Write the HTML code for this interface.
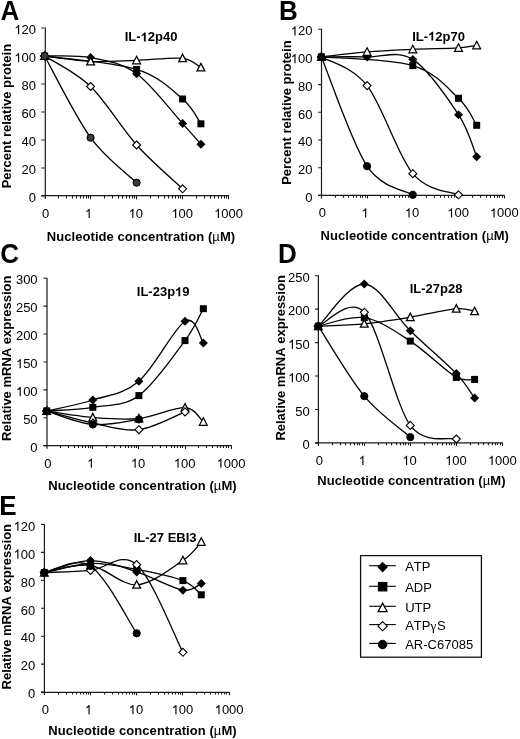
<!DOCTYPE html>
<html><head><meta charset="utf-8"><style>
html,body{margin:0;padding:0;background:#fff;}
svg{display:block;will-change:transform;}
text{font-family:"Liberation Sans", sans-serif;fill:#000;}
.n{font-size:13px;}
.b{font-size:13px;font-weight:bold;}
.p{font-size:26px;font-weight:bold;}
.h{fill:transparent;}
text{font-kerning:none;}
</style></head><body>
<svg width="520" height="739" viewBox="0 0 520 739">
<rect width="520" height="739" fill="#fff"/>
<path d="M45.30,27.50 V199.00 M41.30,195.70 H229.10" stroke="#1a1a1a" stroke-width="1.2" fill="none"/>
<path d="M41.30,196.00 H44.60 M41.30,168.00 H44.60 M41.30,140.00 H44.60 M41.30,112.00 H44.60 M41.30,84.00 H44.60 M41.30,56.00 H44.60 M41.30,28.00 H44.60 M58.50,196.00 v2.4 M66.50,196.00 v2.4 M72.50,196.00 v2.4 M76.50,196.00 v2.4 M80.50,196.00 v2.4 M83.50,196.00 v2.4 M86.50,196.00 v2.4 M88.50,196.00 v2.4 M90.50,196.00 v3.2 M104.50,196.00 v2.4 M112.50,196.00 v2.4 M118.50,196.00 v2.4 M122.50,196.00 v2.4 M126.50,196.00 v2.4 M129.50,196.00 v2.4 M132.50,196.00 v2.4 M134.50,196.00 v2.4 M136.50,196.00 v3.2 M150.50,196.00 v2.4 M158.50,196.00 v2.4 M164.50,196.00 v2.4 M168.50,196.00 v2.4 M172.50,196.00 v2.4 M175.50,196.00 v2.4 M178.50,196.00 v2.4 M180.50,196.00 v2.4 M182.50,196.00 v3.2 M196.50,196.00 v2.4 M204.50,196.00 v2.4 M210.50,196.00 v2.4 M214.50,196.00 v2.4 M218.50,196.00 v2.4 M221.50,196.00 v2.4 M224.50,196.00 v2.4 M226.50,196.00 v2.4 M228.50,196.00 v3.2" stroke="#1a1a1a" stroke-width="1.1" fill="none"/>
<text x="36.00" y="202.30" transform="matrix(1,0,0,1.04,0,-8.092)" text-anchor="end" class="n">0</text>
<text x="36.00" y="174.30" transform="matrix(1,0,0,1.04,0,-6.972)" text-anchor="end" class="n">20</text>
<text x="36.00" y="146.30" transform="matrix(1,0,0,1.04,0,-5.852)" text-anchor="end" class="n">40</text>
<text x="36.00" y="118.30" transform="matrix(1,0,0,1.04,0,-4.732)" text-anchor="end" class="n">60</text>
<text x="36.00" y="90.30" transform="matrix(1,0,0,1.04,0,-3.612)" text-anchor="end" class="n">80</text>
<text x="36.00" y="62.30" transform="matrix(1,0,0,1.04,0,-2.492)" text-anchor="end" class="n"><tspan class="h">1</tspan>00</text>
<text x="36.00" y="34.30" transform="matrix(1,0,0,1.04,0,-1.372)" text-anchor="end" class="n"><tspan class="h">1</tspan>20</text>
<text x="45.70" y="218.10" transform="matrix(1,0,0,1.04,0,-8.724)" text-anchor="middle" class="n">0</text>
<text x="88.50" y="218.10" transform="matrix(1,0,0,1.04,0,-8.724)" text-anchor="middle" class="n"><tspan class="h">1</tspan></text>
<text x="135.80" y="218.10" transform="matrix(1,0,0,1.04,0,-8.724)" text-anchor="middle" class="n"><tspan class="h">1</tspan>0</text>
<text x="182.20" y="218.10" transform="matrix(1,0,0,1.04,0,-8.724)" text-anchor="middle" class="n"><tspan class="h">1</tspan>00</text>
<text x="228.60" y="218.10" transform="matrix(1,0,0,1.04,0,-8.724)" text-anchor="middle" class="n"><tspan class="h">1</tspan>000</text>
<text x="46.80" y="240.60" class="b" letter-spacing="0.06">Nucleotide concentration (<tspan font-weight="normal">µ</tspan>M)</text>
<text transform="translate(10.60,116.10) rotate(-90)" text-anchor="middle" class="b">Percent relative protein</text>
<text x="124.70" y="41.40" class="b">IL-<tspan class="h">1</tspan>2p40</text>
<text x="0.60" y="19.60" transform="matrix(1,0,0,1.04,0,-0.784)" class="p">A</text>
<path d="M44.60,56.00 C52.27,56.27 75.27,54.65 90.60,57.60 C105.93,60.55 121.27,62.70 136.60,73.70 C151.93,84.70 171.88,111.85 182.60,123.60 C191.89,133.78 197.85,140.77 200.91,144.20" stroke="#000" stroke-width="1.3" fill="none"/>
<path d="M44.60,56.00 C59.93,58.23 113.60,62.23 136.60,69.40 C159.60,76.57 171.88,89.93 182.60,99.00 C193.32,108.07 197.85,119.67 200.91,123.80" stroke="#000" stroke-width="1.3" fill="none"/>
<path d="M44.60,56.00 C52.27,56.92 75.27,60.77 90.60,61.50 C105.93,62.23 121.27,60.93 136.60,60.40 C151.93,59.87 171.88,57.12 182.60,58.30 C192.78,59.42 197.85,65.97 200.91,67.50" stroke="#000" stroke-width="1.3" fill="none"/>
<path d="M44.60,56.00 C52.27,61.08 75.27,71.67 90.60,86.50 C105.93,101.33 121.27,127.95 136.60,145.00 C151.93,162.05 174.93,181.50 182.60,188.80" stroke="#000" stroke-width="1.3" fill="none"/>
<path d="M44.60,56.00 C52.27,69.62 75.27,116.58 90.60,137.70 C105.93,158.82 128.93,175.20 136.60,182.70" stroke="#000" stroke-width="1.3" fill="none"/>
<path d="M44.60,51.50 L49.10,56.00 L44.60,60.50 L40.10,56.00 Z" fill="#000"/>
<path d="M90.60,53.10 L95.10,57.60 L90.60,62.10 L86.10,57.60 Z" fill="#000"/>
<path d="M136.60,69.20 L141.10,73.70 L136.60,78.20 L132.10,73.70 Z" fill="#000"/>
<path d="M182.60,119.10 L187.10,123.60 L182.60,128.10 L178.10,123.60 Z" fill="#000"/>
<path d="M200.91,139.70 L205.41,144.20 L200.91,148.70 L196.41,144.20 Z" fill="#000"/>
<rect x="41.10" y="52.50" width="7.00" height="7.00" fill="#000"/>
<rect x="133.10" y="65.90" width="7.00" height="7.00" fill="#000"/>
<rect x="179.10" y="95.50" width="7.00" height="7.00" fill="#000"/>
<rect x="197.41" y="120.30" width="7.00" height="7.00" fill="#000"/>
<path d="M44.60,51.90 L48.50,59.40 L40.70,59.40 Z" fill="#fff" stroke="#000" stroke-width="1.25" stroke-linejoin="miter"/>
<path d="M90.60,57.40 L94.50,64.90 L86.70,64.90 Z" fill="#fff" stroke="#000" stroke-width="1.25" stroke-linejoin="miter"/>
<path d="M136.60,56.30 L140.50,63.80 L132.70,63.80 Z" fill="#fff" stroke="#000" stroke-width="1.25" stroke-linejoin="miter"/>
<path d="M182.60,54.20 L186.50,61.70 L178.70,61.70 Z" fill="#fff" stroke="#000" stroke-width="1.25" stroke-linejoin="miter"/>
<path d="M200.91,63.40 L204.81,70.90 L197.01,70.90 Z" fill="#fff" stroke="#000" stroke-width="1.25" stroke-linejoin="miter"/>
<path d="M44.60,52.00 L48.60,56.00 L44.60,60.00 L40.60,56.00 Z" fill="#fff" stroke="#000" stroke-width="1.1"/>
<path d="M90.60,82.50 L94.60,86.50 L90.60,90.50 L86.60,86.50 Z" fill="#fff" stroke="#000" stroke-width="1.1"/>
<path d="M136.60,141.00 L140.60,145.00 L136.60,149.00 L132.60,145.00 Z" fill="#fff" stroke="#000" stroke-width="1.1"/>
<path d="M182.60,184.80 L186.60,188.80 L182.60,192.80 L178.60,188.80 Z" fill="#fff" stroke="#000" stroke-width="1.1"/>
<circle cx="44.60" cy="56.00" r="3.60" fill="#3a3a3a" stroke="#000" stroke-width="1"/>
<circle cx="90.60" cy="137.70" r="3.60" fill="#3a3a3a" stroke="#000" stroke-width="1"/>
<circle cx="136.60" cy="182.70" r="3.60" fill="#3a3a3a" stroke="#000" stroke-width="1"/>
<path d="M321.50,28.70 V198.40 M318.10,195.30 H504.70" stroke="#1a1a1a" stroke-width="1.2" fill="none"/>
<path d="M318.10,195.40 H321.40 M318.10,167.70 H321.40 M318.10,140.00 H321.40 M318.10,112.30 H321.40 M318.10,84.60 H321.40 M318.10,56.90 H321.40 M318.10,29.20 H321.40 M335.50,195.40 v2.4 M343.50,195.40 v2.4 M348.50,195.40 v2.4 M353.50,195.40 v2.4 M356.50,195.40 v2.4 M360.50,195.40 v2.4 M362.50,195.40 v2.4 M365.50,195.40 v2.4 M367.50,195.40 v3.2 M380.50,195.40 v2.4 M388.50,195.40 v2.4 M394.50,195.40 v2.4 M399.50,195.40 v2.4 M402.50,195.40 v2.4 M405.50,195.40 v2.4 M408.50,195.40 v2.4 M410.50,195.40 v2.4 M412.50,195.40 v3.2 M426.50,195.40 v2.4 M434.50,195.40 v2.4 M440.50,195.40 v2.4 M444.50,195.40 v2.4 M448.50,195.40 v2.4 M451.50,195.40 v2.4 M454.50,195.40 v2.4 M456.50,195.40 v2.4 M458.50,195.40 v3.2 M472.50,195.40 v2.4 M480.50,195.40 v2.4 M486.50,195.40 v2.4 M490.50,195.40 v2.4 M494.50,195.40 v2.4 M497.50,195.40 v2.4 M499.50,195.40 v2.4 M502.50,195.40 v2.4 M504.50,195.40 v3.2" stroke="#1a1a1a" stroke-width="1.1" fill="none"/>
<text x="312.40" y="201.70" transform="matrix(1,0,0,1.04,0,-8.068)" text-anchor="end" class="n">0</text>
<text x="312.40" y="174.00" transform="matrix(1,0,0,1.04,0,-6.960)" text-anchor="end" class="n">20</text>
<text x="312.40" y="146.30" transform="matrix(1,0,0,1.04,0,-5.852)" text-anchor="end" class="n">40</text>
<text x="312.40" y="118.60" transform="matrix(1,0,0,1.04,0,-4.744)" text-anchor="end" class="n">60</text>
<text x="312.40" y="90.90" transform="matrix(1,0,0,1.04,0,-3.636)" text-anchor="end" class="n">80</text>
<text x="312.40" y="63.20" transform="matrix(1,0,0,1.04,0,-2.528)" text-anchor="end" class="n"><tspan class="h">1</tspan>00</text>
<text x="312.40" y="35.50" transform="matrix(1,0,0,1.04,0,-1.420)" text-anchor="end" class="n"><tspan class="h">1</tspan>20</text>
<text x="322.50" y="217.50" transform="matrix(1,0,0,1.04,0,-8.700)" text-anchor="middle" class="n">0</text>
<text x="365.00" y="217.50" transform="matrix(1,0,0,1.04,0,-8.700)" text-anchor="middle" class="n"><tspan class="h">1</tspan></text>
<text x="412.00" y="217.50" transform="matrix(1,0,0,1.04,0,-8.700)" text-anchor="middle" class="n"><tspan class="h">1</tspan>0</text>
<text x="458.10" y="217.50" transform="matrix(1,0,0,1.04,0,-8.700)" text-anchor="middle" class="n"><tspan class="h">1</tspan>00</text>
<text x="504.20" y="217.50" transform="matrix(1,0,0,1.04,0,-8.700)" text-anchor="middle" class="n"><tspan class="h">1</tspan>000</text>
<text x="320.60" y="239.90" class="b" letter-spacing="0.06">Nucleotide concentration (<tspan font-weight="normal">µ</tspan>M)</text>
<text transform="translate(291.00,112.60) rotate(-90)" text-anchor="middle" class="b">Percent relative protein</text>
<text x="412.20" y="40.60" class="b">IL-<tspan class="h">1</tspan>2p70</text>
<text x="278.90" y="19.70" transform="matrix(1,0,0,1.04,0,-0.788)" class="p">B</text>
<path d="M321.40,56.90 C329.02,56.90 351.87,56.48 367.10,56.90 C382.33,57.32 397.57,49.77 412.80,59.40 C428.03,69.03 447.85,98.48 458.50,114.70 C469.15,130.92 473.65,149.70 476.69,156.70" stroke="#000" stroke-width="1.3" fill="none"/>
<path d="M321.40,56.90 C336.63,58.35 389.95,58.70 412.80,65.60 C435.65,72.50 447.85,88.35 458.50,98.30 C469.15,108.25 473.65,120.80 476.69,125.30" stroke="#000" stroke-width="1.3" fill="none"/>
<path d="M321.40,56.90 C329.02,56.07 351.87,53.15 367.10,51.90 C382.33,50.65 397.57,50.07 412.80,49.40 C428.03,48.73 447.85,48.57 458.50,47.90 C467.66,47.33 473.65,45.82 476.69,45.40" stroke="#000" stroke-width="1.3" fill="none"/>
<path d="M321.40,56.90 C329.02,61.68 351.87,66.13 367.10,85.60 C382.33,105.07 397.57,155.50 412.80,173.70 C428.03,191.90 450.88,191.28 458.50,194.80" stroke="#000" stroke-width="1.3" fill="none"/>
<path d="M321.40,56.90 C329.02,75.12 351.87,143.22 367.10,166.20 C381.99,188.67 405.18,190.03 412.80,194.80" stroke="#000" stroke-width="1.3" fill="none"/>
<path d="M321.40,52.40 L325.90,56.90 L321.40,61.40 L316.90,56.90 Z" fill="#000"/>
<path d="M367.10,52.40 L371.60,56.90 L367.10,61.40 L362.60,56.90 Z" fill="#000"/>
<path d="M412.80,54.90 L417.30,59.40 L412.80,63.90 L408.30,59.40 Z" fill="#000"/>
<path d="M458.50,110.20 L463.00,114.70 L458.50,119.20 L454.00,114.70 Z" fill="#000"/>
<path d="M476.69,152.20 L481.19,156.70 L476.69,161.20 L472.19,156.70 Z" fill="#000"/>
<rect x="317.90" y="53.40" width="7.00" height="7.00" fill="#000"/>
<rect x="409.30" y="62.10" width="7.00" height="7.00" fill="#000"/>
<rect x="455.00" y="94.80" width="7.00" height="7.00" fill="#000"/>
<rect x="473.19" y="121.80" width="7.00" height="7.00" fill="#000"/>
<path d="M321.40,52.80 L325.30,60.30 L317.50,60.30 Z" fill="#fff" stroke="#000" stroke-width="1.25" stroke-linejoin="miter"/>
<path d="M367.10,47.80 L371.00,55.30 L363.20,55.30 Z" fill="#fff" stroke="#000" stroke-width="1.25" stroke-linejoin="miter"/>
<path d="M412.80,45.30 L416.70,52.80 L408.90,52.80 Z" fill="#fff" stroke="#000" stroke-width="1.25" stroke-linejoin="miter"/>
<path d="M458.50,43.80 L462.40,51.30 L454.60,51.30 Z" fill="#fff" stroke="#000" stroke-width="1.25" stroke-linejoin="miter"/>
<path d="M476.69,41.30 L480.59,48.80 L472.79,48.80 Z" fill="#fff" stroke="#000" stroke-width="1.25" stroke-linejoin="miter"/>
<path d="M321.40,52.90 L325.40,56.90 L321.40,60.90 L317.40,56.90 Z" fill="#fff" stroke="#000" stroke-width="1.1"/>
<path d="M367.10,81.60 L371.10,85.60 L367.10,89.60 L363.10,85.60 Z" fill="#fff" stroke="#000" stroke-width="1.1"/>
<path d="M412.80,169.70 L416.80,173.70 L412.80,177.70 L408.80,173.70 Z" fill="#fff" stroke="#000" stroke-width="1.1"/>
<path d="M458.50,190.80 L462.50,194.80 L458.50,198.80 L454.50,194.80 Z" fill="#fff" stroke="#000" stroke-width="1.1"/>
<circle cx="321.40" cy="56.90" r="3.60" fill="#000" stroke="#000" stroke-width="1"/>
<circle cx="367.10" cy="166.20" r="3.60" fill="#000" stroke="#000" stroke-width="1"/>
<circle cx="412.80" cy="194.80" r="3.60" fill="#000" stroke="#000" stroke-width="1"/>
<path d="M47.00,277.70 V448.70 M43.40,445.60 H231.60" stroke="#1a1a1a" stroke-width="1.2" fill="none"/>
<path d="M43.40,445.70 H46.70 M43.40,417.78 H46.70 M43.40,389.87 H46.70 M43.40,361.95 H46.70 M43.40,334.03 H46.70 M43.40,306.12 H46.70 M43.40,278.20 H46.70 M60.50,445.70 v2.4 M68.50,445.70 v2.4 M74.50,445.70 v2.4 M78.50,445.70 v2.4 M82.50,445.70 v2.4 M85.50,445.70 v2.4 M88.50,445.70 v2.4 M90.50,445.70 v2.4 M92.50,445.70 v3.2 M106.50,445.70 v2.4 M114.50,445.70 v2.4 M120.50,445.70 v2.4 M125.50,445.70 v2.4 M128.50,445.70 v2.4 M131.50,445.70 v2.4 M134.50,445.70 v2.4 M136.50,445.70 v2.4 M138.50,445.70 v3.2 M152.50,445.70 v2.4 M160.50,445.70 v2.4 M166.50,445.70 v2.4 M171.50,445.70 v2.4 M174.50,445.70 v2.4 M177.50,445.70 v2.4 M180.50,445.70 v2.4 M182.50,445.70 v2.4 M185.50,445.70 v3.2 M198.50,445.70 v2.4 M206.50,445.70 v2.4 M212.50,445.70 v2.4 M217.50,445.70 v2.4 M220.50,445.70 v2.4 M223.50,445.70 v2.4 M226.50,445.70 v2.4 M228.50,445.70 v2.4 M231.50,445.70 v3.2" stroke="#1a1a1a" stroke-width="1.1" fill="none"/>
<text x="37.60" y="452.00" transform="matrix(1,0,0,1.04,0,-18.080)" text-anchor="end" class="n">0</text>
<text x="37.60" y="424.08" transform="matrix(1,0,0,1.04,0,-16.963)" text-anchor="end" class="n">50</text>
<text x="37.60" y="396.17" transform="matrix(1,0,0,1.04,0,-15.847)" text-anchor="end" class="n"><tspan class="h">1</tspan>00</text>
<text x="37.60" y="368.25" transform="matrix(1,0,0,1.04,0,-14.730)" text-anchor="end" class="n"><tspan class="h">1</tspan>50</text>
<text x="37.60" y="340.33" transform="matrix(1,0,0,1.04,0,-13.613)" text-anchor="end" class="n">200</text>
<text x="37.60" y="312.42" transform="matrix(1,0,0,1.04,0,-12.497)" text-anchor="end" class="n">250</text>
<text x="37.60" y="284.50" transform="matrix(1,0,0,1.04,0,-11.380)" text-anchor="end" class="n">300</text>
<text x="47.80" y="467.80" transform="matrix(1,0,0,1.04,0,-18.712)" text-anchor="middle" class="n">0</text>
<text x="90.70" y="467.80" transform="matrix(1,0,0,1.04,0,-18.712)" text-anchor="middle" class="n"><tspan class="h">1</tspan></text>
<text x="138.10" y="467.80" transform="matrix(1,0,0,1.04,0,-18.712)" text-anchor="middle" class="n"><tspan class="h">1</tspan>0</text>
<text x="184.60" y="467.80" transform="matrix(1,0,0,1.04,0,-18.712)" text-anchor="middle" class="n"><tspan class="h">1</tspan>00</text>
<text x="231.10" y="467.80" transform="matrix(1,0,0,1.04,0,-18.712)" text-anchor="middle" class="n"><tspan class="h">1</tspan>000</text>
<text x="48.30" y="490.10" class="b" letter-spacing="0.06">Nucleotide concentration (<tspan font-weight="normal">µ</tspan>M)</text>
<text transform="translate(11.20,358.30) rotate(-90)" text-anchor="middle" class="b">Relative mRNA expression</text>
<text x="136.80" y="296.30" class="b">IL-23p<tspan class="h">1</tspan>9</text>
<text x="0.20" y="262.70" transform="matrix(1,0,0,1.04,0,-10.508)" class="p">C</text>
<path d="M46.70,411.00 C54.38,409.17 77.43,404.97 92.80,400.00 C108.17,395.03 123.53,394.32 138.90,381.20 C154.27,368.08 174.26,327.68 185.00,321.30 C195.74,314.92 200.29,339.30 203.35,342.90" stroke="#000" stroke-width="1.3" fill="none"/>
<path d="M46.70,411.00 C54.38,410.38 77.43,409.87 92.80,407.30 C108.17,404.73 123.53,406.72 138.90,395.60 C154.27,384.48 174.26,355.08 185.00,340.60 C195.74,326.12 200.29,314.02 203.35,308.70" stroke="#000" stroke-width="1.3" fill="none"/>
<path d="M46.70,411.00 C54.38,412.08 77.43,416.25 92.80,417.50 C108.17,418.75 123.53,420.13 138.90,418.50 C154.27,416.87 174.26,407.13 185.00,407.70 C195.74,408.27 200.29,419.53 203.35,421.90" stroke="#000" stroke-width="1.3" fill="none"/>
<path d="M46.70,411.00 C54.38,413.00 77.43,419.88 92.80,423.00 C108.17,426.12 123.53,431.55 138.90,429.70 C154.27,427.85 177.32,414.87 185.00,411.90" stroke="#000" stroke-width="1.3" fill="none"/>
<path d="M46.70,411.00 C54.38,413.25 77.43,423.10 92.80,424.50 C108.17,425.90 131.22,420.25 138.90,419.40" stroke="#000" stroke-width="1.3" fill="none"/>
<path d="M46.70,406.50 L51.20,411.00 L46.70,415.50 L42.20,411.00 Z" fill="#000"/>
<path d="M92.80,395.50 L97.30,400.00 L92.80,404.50 L88.30,400.00 Z" fill="#000"/>
<path d="M138.90,376.70 L143.40,381.20 L138.90,385.70 L134.40,381.20 Z" fill="#000"/>
<path d="M185.00,316.80 L189.50,321.30 L185.00,325.80 L180.50,321.30 Z" fill="#000"/>
<path d="M203.35,338.40 L207.85,342.90 L203.35,347.40 L198.85,342.90 Z" fill="#000"/>
<rect x="43.20" y="407.50" width="7.00" height="7.00" fill="#000"/>
<rect x="89.30" y="403.80" width="7.00" height="7.00" fill="#000"/>
<rect x="135.40" y="392.10" width="7.00" height="7.00" fill="#000"/>
<rect x="181.50" y="337.10" width="7.00" height="7.00" fill="#000"/>
<rect x="199.85" y="305.20" width="7.00" height="7.00" fill="#000"/>
<path d="M46.70,406.90 L50.60,414.40 L42.80,414.40 Z" fill="#fff" stroke="#000" stroke-width="1.25" stroke-linejoin="miter"/>
<path d="M92.80,413.40 L96.70,420.90 L88.90,420.90 Z" fill="#fff" stroke="#000" stroke-width="1.25" stroke-linejoin="miter"/>
<path d="M138.90,414.40 L142.80,421.90 L135.00,421.90 Z" fill="#fff" stroke="#000" stroke-width="1.25" stroke-linejoin="miter"/>
<path d="M185.00,403.60 L188.90,411.10 L181.10,411.10 Z" fill="#fff" stroke="#000" stroke-width="1.25" stroke-linejoin="miter"/>
<path d="M203.35,417.80 L207.25,425.30 L199.45,425.30 Z" fill="#fff" stroke="#000" stroke-width="1.25" stroke-linejoin="miter"/>
<path d="M46.70,407.00 L50.70,411.00 L46.70,415.00 L42.70,411.00 Z" fill="#fff" stroke="#000" stroke-width="1.1"/>
<path d="M92.80,419.00 L96.80,423.00 L92.80,427.00 L88.80,423.00 Z" fill="#fff" stroke="#000" stroke-width="1.1"/>
<path d="M138.90,425.70 L142.90,429.70 L138.90,433.70 L134.90,429.70 Z" fill="#fff" stroke="#000" stroke-width="1.1"/>
<path d="M185.00,407.90 L189.00,411.90 L185.00,415.90 L181.00,411.90 Z" fill="#fff" stroke="#000" stroke-width="1.1"/>
<circle cx="46.70" cy="411.00" r="3.60" fill="#000" stroke="#000" stroke-width="1"/>
<circle cx="92.80" cy="424.50" r="3.60" fill="#000" stroke="#000" stroke-width="1"/>
<circle cx="138.90" cy="419.40" r="3.60" fill="#000" stroke="#000" stroke-width="1"/>
<path d="M318.40,275.20 V445.90 M315.00,442.80 H502.80" stroke="#1a1a1a" stroke-width="1.2" fill="none"/>
<path d="M315.00,442.90 H318.30 M315.00,409.46 H318.30 M315.00,376.02 H318.30 M315.00,342.58 H318.30 M315.00,309.14 H318.30 M315.00,275.70 H318.30 M332.50,442.90 v2.4 M340.50,442.90 v2.4 M345.50,442.90 v2.4 M350.50,442.90 v2.4 M354.50,442.90 v2.4 M357.50,442.90 v2.4 M359.50,442.90 v2.4 M362.50,442.90 v2.4 M364.50,442.90 v3.2 M378.50,442.90 v2.4 M386.50,442.90 v2.4 M391.50,442.90 v2.4 M396.50,442.90 v2.4 M400.50,442.90 v2.4 M403.50,442.90 v2.4 M405.50,442.90 v2.4 M408.50,442.90 v2.4 M410.50,442.90 v3.2 M424.50,442.90 v2.4 M432.50,442.90 v2.4 M437.50,442.90 v2.4 M442.50,442.90 v2.4 M446.50,442.90 v2.4 M449.50,442.90 v2.4 M451.50,442.90 v2.4 M454.50,442.90 v2.4 M456.50,442.90 v3.2 M470.50,442.90 v2.4 M478.50,442.90 v2.4 M483.50,442.90 v2.4 M488.50,442.90 v2.4 M492.50,442.90 v2.4 M495.50,442.90 v2.4 M497.50,442.90 v2.4 M500.50,442.90 v2.4 M502.50,442.90 v3.2" stroke="#1a1a1a" stroke-width="1.1" fill="none"/>
<text x="309.80" y="449.20" transform="matrix(1,0,0,1.04,0,-17.968)" text-anchor="end" class="n">0</text>
<text x="309.80" y="415.76" transform="matrix(1,0,0,1.04,0,-16.630)" text-anchor="end" class="n">50</text>
<text x="309.80" y="382.32" transform="matrix(1,0,0,1.04,0,-15.293)" text-anchor="end" class="n"><tspan class="h">1</tspan>00</text>
<text x="309.80" y="348.88" transform="matrix(1,0,0,1.04,0,-13.955)" text-anchor="end" class="n"><tspan class="h">1</tspan>50</text>
<text x="309.80" y="315.44" transform="matrix(1,0,0,1.04,0,-12.618)" text-anchor="end" class="n">200</text>
<text x="309.80" y="282.00" transform="matrix(1,0,0,1.04,0,-11.280)" text-anchor="end" class="n">250</text>
<text x="319.40" y="465.00" transform="matrix(1,0,0,1.04,0,-18.600)" text-anchor="middle" class="n">0</text>
<text x="362.20" y="465.00" transform="matrix(1,0,0,1.04,0,-18.600)" text-anchor="middle" class="n"><tspan class="h">1</tspan></text>
<text x="409.50" y="465.00" transform="matrix(1,0,0,1.04,0,-18.600)" text-anchor="middle" class="n"><tspan class="h">1</tspan>0</text>
<text x="455.90" y="465.00" transform="matrix(1,0,0,1.04,0,-18.600)" text-anchor="middle" class="n"><tspan class="h">1</tspan>00</text>
<text x="502.30" y="465.00" transform="matrix(1,0,0,1.04,0,-18.600)" text-anchor="middle" class="n"><tspan class="h">1</tspan>000</text>
<text x="317.20" y="485.40" class="b" letter-spacing="0.06">Nucleotide concentration (<tspan font-weight="normal">µ</tspan>M)</text>
<text transform="translate(284.60,357.90) rotate(-90)" text-anchor="middle" class="b">Relative mRNA expression</text>
<text x="409.70" y="293.00" class="b">IL-27p28</text>
<text x="278.00" y="263.20" transform="matrix(1,0,0,1.04,0,-10.528)" class="p">D</text>
<path d="M318.30,326.20 C325.97,319.17 348.97,283.25 364.30,284.00 C379.63,284.75 394.97,315.77 410.30,330.70 C425.63,345.63 445.58,362.37 456.30,373.60 C466.86,384.66 471.55,394.02 474.61,398.10" stroke="#000" stroke-width="1.3" fill="none"/>
<path d="M318.30,326.20 C325.97,324.78 348.97,315.22 364.30,317.70 C379.63,320.18 394.97,331.15 410.30,341.10 C425.63,351.05 445.58,371.02 456.30,377.40 C464.21,382.11 471.55,379.07 474.61,379.40" stroke="#000" stroke-width="1.3" fill="none"/>
<path d="M318.30,326.20 C325.97,325.80 348.97,325.30 364.30,323.80 C379.63,322.30 394.97,319.72 410.30,317.20 C425.63,314.68 445.58,309.70 456.30,308.70 C465.50,307.84 471.55,310.78 474.61,311.20" stroke="#000" stroke-width="1.3" fill="none"/>
<path d="M318.30,326.20 C325.97,323.88 348.97,295.77 364.30,312.30 C379.63,328.83 394.97,404.28 410.30,425.40 C424.39,444.81 448.63,436.73 456.30,439.00" stroke="#000" stroke-width="1.3" fill="none"/>
<path d="M318.30,326.20 C325.97,337.87 348.97,377.72 364.30,396.20 C379.63,414.68 402.63,430.28 410.30,437.10" stroke="#000" stroke-width="1.3" fill="none"/>
<path d="M318.30,321.70 L322.80,326.20 L318.30,330.70 L313.80,326.20 Z" fill="#000"/>
<path d="M364.30,279.50 L368.80,284.00 L364.30,288.50 L359.80,284.00 Z" fill="#000"/>
<path d="M410.30,326.20 L414.80,330.70 L410.30,335.20 L405.80,330.70 Z" fill="#000"/>
<path d="M456.30,369.10 L460.80,373.60 L456.30,378.10 L451.80,373.60 Z" fill="#000"/>
<path d="M474.61,393.60 L479.11,398.10 L474.61,402.60 L470.11,398.10 Z" fill="#000"/>
<rect x="314.80" y="322.70" width="7.00" height="7.00" fill="#000"/>
<rect x="360.80" y="314.20" width="7.00" height="7.00" fill="#000"/>
<rect x="406.80" y="337.60" width="7.00" height="7.00" fill="#000"/>
<rect x="452.80" y="373.90" width="7.00" height="7.00" fill="#000"/>
<rect x="471.11" y="375.90" width="7.00" height="7.00" fill="#000"/>
<path d="M318.30,322.10 L322.20,329.60 L314.40,329.60 Z" fill="#fff" stroke="#000" stroke-width="1.25" stroke-linejoin="miter"/>
<path d="M364.30,319.70 L368.20,327.20 L360.40,327.20 Z" fill="#fff" stroke="#000" stroke-width="1.25" stroke-linejoin="miter"/>
<path d="M410.30,313.10 L414.20,320.60 L406.40,320.60 Z" fill="#fff" stroke="#000" stroke-width="1.25" stroke-linejoin="miter"/>
<path d="M456.30,304.60 L460.20,312.10 L452.40,312.10 Z" fill="#fff" stroke="#000" stroke-width="1.25" stroke-linejoin="miter"/>
<path d="M474.61,307.10 L478.51,314.60 L470.71,314.60 Z" fill="#fff" stroke="#000" stroke-width="1.25" stroke-linejoin="miter"/>
<path d="M318.30,322.20 L322.30,326.20 L318.30,330.20 L314.30,326.20 Z" fill="#fff" stroke="#000" stroke-width="1.1"/>
<path d="M364.30,308.30 L368.30,312.30 L364.30,316.30 L360.30,312.30 Z" fill="#fff" stroke="#000" stroke-width="1.1"/>
<path d="M410.30,421.40 L414.30,425.40 L410.30,429.40 L406.30,425.40 Z" fill="#fff" stroke="#000" stroke-width="1.1"/>
<path d="M456.30,435.00 L460.30,439.00 L456.30,443.00 L452.30,439.00 Z" fill="#fff" stroke="#000" stroke-width="1.1"/>
<circle cx="318.30" cy="326.20" r="3.60" fill="#000" stroke="#000" stroke-width="1"/>
<circle cx="364.30" cy="396.20" r="3.60" fill="#000" stroke="#000" stroke-width="1"/>
<circle cx="410.30" cy="437.10" r="3.60" fill="#000" stroke="#000" stroke-width="1"/>
<path d="M44.40,523.90 V695.10 M41.00,692.30 H229.60" stroke="#1a1a1a" stroke-width="1.2" fill="none"/>
<path d="M41.00,692.10 H44.30 M41.00,664.15 H44.30 M41.00,636.20 H44.30 M41.00,608.25 H44.30 M41.00,580.30 H44.30 M41.00,552.35 H44.30 M41.00,524.40 H44.30 M58.50,692.10 v2.4 M66.50,692.10 v2.4 M72.50,692.10 v2.4 M76.50,692.10 v2.4 M80.50,692.10 v2.4 M83.50,692.10 v2.4 M86.50,692.10 v2.4 M88.50,692.10 v2.4 M90.50,692.10 v3.2 M104.50,692.10 v2.4 M112.50,692.10 v2.4 M118.50,692.10 v2.4 M122.50,692.10 v2.4 M126.50,692.10 v2.4 M129.50,692.10 v2.4 M132.50,692.10 v2.4 M134.50,692.10 v2.4 M136.50,692.10 v3.2 M150.50,692.10 v2.4 M158.50,692.10 v2.4 M164.50,692.10 v2.4 M168.50,692.10 v2.4 M172.50,692.10 v2.4 M175.50,692.10 v2.4 M178.50,692.10 v2.4 M180.50,692.10 v2.4 M182.50,692.10 v3.2 M196.50,692.10 v2.4 M204.50,692.10 v2.4 M210.50,692.10 v2.4 M215.50,692.10 v2.4 M218.50,692.10 v2.4 M221.50,692.10 v2.4 M224.50,692.10 v2.4 M226.50,692.10 v2.4 M229.50,692.10 v3.2" stroke="#1a1a1a" stroke-width="1.1" fill="none"/>
<text x="35.30" y="698.40" transform="matrix(1,0,0,1.04,0,-27.936)" text-anchor="end" class="n">0</text>
<text x="35.30" y="670.45" transform="matrix(1,0,0,1.04,0,-26.818)" text-anchor="end" class="n">20</text>
<text x="35.30" y="642.50" transform="matrix(1,0,0,1.04,0,-25.700)" text-anchor="end" class="n">40</text>
<text x="35.30" y="614.55" transform="matrix(1,0,0,1.04,0,-24.582)" text-anchor="end" class="n">60</text>
<text x="35.30" y="586.60" transform="matrix(1,0,0,1.04,0,-23.464)" text-anchor="end" class="n">80</text>
<text x="35.30" y="558.65" transform="matrix(1,0,0,1.04,0,-22.346)" text-anchor="end" class="n"><tspan class="h">1</tspan>00</text>
<text x="35.30" y="530.70" transform="matrix(1,0,0,1.04,0,-21.228)" text-anchor="end" class="n"><tspan class="h">1</tspan>20</text>
<text x="45.40" y="714.20" transform="matrix(1,0,0,1.04,0,-28.568)" text-anchor="middle" class="n">0</text>
<text x="88.40" y="714.20" transform="matrix(1,0,0,1.04,0,-28.568)" text-anchor="middle" class="n"><tspan class="h">1</tspan></text>
<text x="135.90" y="714.20" transform="matrix(1,0,0,1.04,0,-28.568)" text-anchor="middle" class="n"><tspan class="h">1</tspan>0</text>
<text x="182.50" y="714.20" transform="matrix(1,0,0,1.04,0,-28.568)" text-anchor="middle" class="n"><tspan class="h">1</tspan>00</text>
<text x="229.10" y="714.20" transform="matrix(1,0,0,1.04,0,-28.568)" text-anchor="middle" class="n"><tspan class="h">1</tspan>000</text>
<text x="48.30" y="734.70" class="b" letter-spacing="0.06">Nucleotide concentration (<tspan font-weight="normal">µ</tspan>M)</text>
<text transform="translate(11.20,606.70) rotate(-90)" text-anchor="middle" class="b">Relative mRNA expression</text>
<text x="133.70" y="541.90" class="b">IL-27 EBI3</text>
<text x="-0.70" y="515.10" transform="matrix(1,0,0,1.04,0,-20.604)" class="p">E</text>
<path d="M44.30,572.60 C52.00,570.60 75.10,560.72 90.50,560.60 C105.90,560.48 121.30,566.97 136.70,571.90 C152.10,576.83 172.14,588.27 182.90,590.20 C192.53,591.93 198.22,584.62 201.28,583.50" stroke="#000" stroke-width="1.3" fill="none"/>
<path d="M44.30,572.60 C52.00,571.08 75.10,564.03 90.50,563.50 C105.90,562.97 121.30,566.55 136.70,569.40 C152.10,572.25 172.14,576.37 182.90,580.60 C193.66,584.83 198.22,592.43 201.28,594.80" stroke="#000" stroke-width="1.3" fill="none"/>
<path d="M44.30,572.60 C52.00,571.42 75.10,563.47 90.50,565.50 C105.90,567.53 121.30,585.65 136.70,584.80 C152.10,583.95 172.14,567.55 182.90,560.40 C193.66,553.25 198.22,544.98 201.28,541.90" stroke="#000" stroke-width="1.3" fill="none"/>
<path d="M44.30,572.60 C52.00,572.23 75.10,571.73 90.50,570.40 C105.90,569.07 121.30,550.95 136.70,564.60 C152.10,578.25 175.20,637.68 182.90,652.30" stroke="#000" stroke-width="1.3" fill="none"/>
<path d="M44.30,572.60 C52.00,571.50 75.10,555.88 90.50,566.00 C105.90,576.12 129.00,622.08 136.70,633.30" stroke="#000" stroke-width="1.3" fill="none"/>
<path d="M44.30,568.10 L48.80,572.60 L44.30,577.10 L39.80,572.60 Z" fill="#000"/>
<path d="M90.50,556.10 L95.00,560.60 L90.50,565.10 L86.00,560.60 Z" fill="#000"/>
<path d="M136.70,567.40 L141.20,571.90 L136.70,576.40 L132.20,571.90 Z" fill="#000"/>
<path d="M182.90,585.70 L187.40,590.20 L182.90,594.70 L178.40,590.20 Z" fill="#000"/>
<path d="M201.28,579.00 L205.78,583.50 L201.28,588.00 L196.78,583.50 Z" fill="#000"/>
<rect x="40.80" y="569.10" width="7.00" height="7.00" fill="#000"/>
<rect x="87.00" y="560.00" width="7.00" height="7.00" fill="#000"/>
<rect x="133.20" y="565.90" width="7.00" height="7.00" fill="#000"/>
<rect x="179.40" y="577.10" width="7.00" height="7.00" fill="#000"/>
<rect x="197.78" y="591.30" width="7.00" height="7.00" fill="#000"/>
<path d="M44.30,568.50 L48.20,576.00 L40.40,576.00 Z" fill="#fff" stroke="#000" stroke-width="1.25" stroke-linejoin="miter"/>
<path d="M90.50,561.40 L94.40,568.90 L86.60,568.90 Z" fill="#fff" stroke="#000" stroke-width="1.25" stroke-linejoin="miter"/>
<path d="M136.70,580.70 L140.60,588.20 L132.80,588.20 Z" fill="#fff" stroke="#000" stroke-width="1.25" stroke-linejoin="miter"/>
<path d="M182.90,556.30 L186.80,563.80 L179.00,563.80 Z" fill="#fff" stroke="#000" stroke-width="1.25" stroke-linejoin="miter"/>
<path d="M201.28,537.80 L205.18,545.30 L197.38,545.30 Z" fill="#fff" stroke="#000" stroke-width="1.25" stroke-linejoin="miter"/>
<path d="M44.30,568.60 L48.30,572.60 L44.30,576.60 L40.30,572.60 Z" fill="#fff" stroke="#000" stroke-width="1.1"/>
<path d="M90.50,566.40 L94.50,570.40 L90.50,574.40 L86.50,570.40 Z" fill="#fff" stroke="#000" stroke-width="1.1"/>
<path d="M136.70,560.60 L140.70,564.60 L136.70,568.60 L132.70,564.60 Z" fill="#fff" stroke="#000" stroke-width="1.1"/>
<path d="M182.90,648.30 L186.90,652.30 L182.90,656.30 L178.90,652.30 Z" fill="#fff" stroke="#000" stroke-width="1.1"/>
<circle cx="44.30" cy="572.60" r="3.60" fill="#000" stroke="#000" stroke-width="1"/>
<circle cx="90.50" cy="566.00" r="3.60" fill="#000" stroke="#000" stroke-width="1"/>
<circle cx="136.70" cy="633.30" r="3.60" fill="#000" stroke="#000" stroke-width="1"/>
<rect x="360.6" y="555.6" width="120.8" height="101.6" fill="none" stroke="#111" stroke-width="1.3"/>
<path d="M369.2,565.70 H395.8" stroke="#000" stroke-width="1.1"/>
<path d="M382.60,561.79 L387.91,567.10 L382.60,572.41 L377.29,567.10 Z" fill="#000"/>
<text x="405.2" y="571.30" class="n">ATP</text>
<path d="M369.2,586.30 H395.8" stroke="#000" stroke-width="1.1"/>
<rect x="377.84" y="581.94" width="9.52" height="9.52" fill="#000"/>
<text x="405.2" y="591.90" class="n">ADP</text>
<path d="M369.2,606.30 H395.8" stroke="#000" stroke-width="1.1"/>
<path d="M382.60,603.09 L387.09,611.61 L378.12,611.61 Z" fill="#fff" stroke="#000" stroke-width="1.25" stroke-linejoin="miter"/>
<text x="405.2" y="611.90" class="n">UTP</text>
<path d="M369.2,624.60 H395.8" stroke="#000" stroke-width="1.1"/>
<path d="M382.60,621.60 L387.20,626.20 L382.60,630.80 L378.00,626.20 Z" fill="#fff" stroke="#000" stroke-width="1.1"/>
<text x="405.2" y="630.20" class="n">ATP<tspan style="font-family:'Liberation Serif',serif">γ</tspan><tspan dx="0.75">S</tspan></text>
<path d="M369.2,643.40 H395.8" stroke="#000" stroke-width="1.1"/>
<circle cx="382.60" cy="644.50" r="4.25" fill="#000" stroke="#000" stroke-width="1"/>
<text x="405.2" y="649.00" class="n">AR-C67085</text>
<path d="M19.16,62.30 L18.01,62.30 L18.01,55.30 Q17.60,55.68 16.93,56.06 Q16.26,56.44 15.73,56.63 L15.73,55.56 Q16.69,55.13 17.39,54.53 Q18.09,53.93 18.41,53.36 L19.16,53.36 Z" fill="#000" transform="matrix(1,0,0,1.04,0,-2.492)"/>
<path d="M19.16,34.30 L18.01,34.30 L18.01,27.30 Q17.60,27.68 16.93,28.06 Q16.26,28.44 15.73,28.63 L15.73,27.56 Q16.69,27.13 17.39,26.53 Q18.09,25.93 18.41,25.36 L19.16,25.36 Z" fill="#000" transform="matrix(1,0,0,1.04,0,-1.372)"/>
<path d="M89.73,218.10 L88.59,218.10 L88.59,211.10 Q88.17,211.48 87.50,211.86 Q86.83,212.24 86.30,212.43 L86.30,211.36 Q87.26,210.93 87.96,210.33 Q88.66,209.73 88.99,209.16 L89.73,209.16 Z" fill="#000" transform="matrix(1,0,0,1.04,0,-8.724)"/>
<path d="M133.41,218.10 L132.27,218.10 L132.27,211.10 Q131.86,211.48 131.19,211.86 Q130.52,212.24 129.99,212.43 L129.99,211.36 Q130.95,210.93 131.65,210.33 Q132.35,209.73 132.67,209.16 L133.41,209.16 Z" fill="#000" transform="matrix(1,0,0,1.04,0,-8.724)"/>
<path d="M176.20,218.10 L175.06,218.10 L175.06,211.10 Q174.64,211.48 173.97,211.86 Q173.31,212.24 172.77,212.43 L172.77,211.36 Q173.73,210.93 174.43,210.33 Q175.13,209.73 175.46,209.16 L176.20,209.16 Z" fill="#000" transform="matrix(1,0,0,1.04,0,-8.724)"/>
<path d="M218.99,218.10 L217.85,218.10 L217.85,211.10 Q217.44,211.48 216.77,211.86 Q216.10,212.24 215.57,212.43 L215.57,211.36 Q216.52,210.93 217.23,210.33 Q217.93,209.73 218.25,209.16 L218.99,209.16 Z" fill="#000" transform="matrix(1,0,0,1.04,0,-8.724)"/>
<path d="M145.70,41.40 L143.92,41.40 L143.92,34.94 Q142.94,35.82 141.61,36.23 L141.61,34.68 Q142.31,34.46 143.09,33.88 Q143.87,33.30 144.25,32.46 L145.70,32.46 Z" fill="#000"/>
<path d="M295.56,63.20 L294.41,63.20 L294.41,56.20 Q294.00,56.58 293.33,56.96 Q292.66,57.34 292.13,57.53 L292.13,56.46 Q293.09,56.03 293.79,55.43 Q294.49,54.83 294.81,54.26 L295.56,54.26 Z" fill="#000" transform="matrix(1,0,0,1.04,0,-2.528)"/>
<path d="M295.56,35.50 L294.41,35.50 L294.41,28.50 Q294.00,28.88 293.33,29.26 Q292.66,29.64 292.13,29.83 L292.13,28.76 Q293.09,28.33 293.79,27.73 Q294.49,27.13 294.81,26.56 L295.56,26.56 Z" fill="#000" transform="matrix(1,0,0,1.04,0,-1.420)"/>
<path d="M366.23,217.50 L365.09,217.50 L365.09,210.50 Q364.67,210.88 364.00,211.26 Q363.33,211.64 362.80,211.83 L362.80,210.76 Q363.76,210.33 364.46,209.73 Q365.16,209.13 365.49,208.56 L366.23,208.56 Z" fill="#000" transform="matrix(1,0,0,1.04,0,-8.700)"/>
<path d="M409.61,217.50 L408.47,217.50 L408.47,210.50 Q408.06,210.88 407.39,211.26 Q406.72,211.64 406.19,211.83 L406.19,210.76 Q407.15,210.33 407.85,209.73 Q408.55,209.13 408.87,208.56 L409.61,208.56 Z" fill="#000" transform="matrix(1,0,0,1.04,0,-8.700)"/>
<path d="M452.10,217.50 L450.96,217.50 L450.96,210.50 Q450.54,210.88 449.87,211.26 Q449.21,211.64 448.67,211.83 L448.67,210.76 Q449.63,210.33 450.33,209.73 Q451.03,209.13 451.36,208.56 L452.10,208.56 Z" fill="#000" transform="matrix(1,0,0,1.04,0,-8.700)"/>
<path d="M494.59,217.50 L493.45,217.50 L493.45,210.50 Q493.04,210.88 492.37,211.26 Q491.70,211.64 491.17,211.83 L491.17,210.76 Q492.12,210.33 492.83,209.73 Q493.53,209.13 493.85,208.56 L494.59,208.56 Z" fill="#000" transform="matrix(1,0,0,1.04,0,-8.700)"/>
<path d="M433.20,40.60 L431.42,40.60 L431.42,34.14 Q430.44,35.02 429.11,35.43 L429.11,33.88 Q429.81,33.66 430.59,33.08 Q431.37,32.50 431.75,31.66 L433.20,31.66 Z" fill="#000"/>
<path d="M20.76,396.17 L19.61,396.17 L19.61,389.17 Q19.20,389.55 18.53,389.93 Q17.86,390.31 17.33,390.50 L17.33,389.43 Q18.29,389.00 18.99,388.40 Q19.69,387.80 20.01,387.23 L20.76,387.23 Z" fill="#000" transform="matrix(1,0,0,1.04,0,-15.847)"/>
<path d="M20.76,368.25 L19.61,368.25 L19.61,361.25 Q19.20,361.63 18.53,362.01 Q17.86,362.39 17.33,362.58 L17.33,361.51 Q18.29,361.08 18.99,360.48 Q19.69,359.88 20.01,359.31 L20.76,359.31 Z" fill="#000" transform="matrix(1,0,0,1.04,0,-14.730)"/>
<path d="M91.93,467.80 L90.79,467.80 L90.79,460.80 Q90.37,461.18 89.70,461.56 Q89.03,461.94 88.50,462.13 L88.50,461.06 Q89.46,460.63 90.16,460.03 Q90.86,459.43 91.19,458.86 L91.93,458.86 Z" fill="#000" transform="matrix(1,0,0,1.04,0,-18.712)"/>
<path d="M135.71,467.80 L134.57,467.80 L134.57,460.80 Q134.16,461.18 133.49,461.56 Q132.82,461.94 132.29,462.13 L132.29,461.06 Q133.25,460.63 133.95,460.03 Q134.65,459.43 134.97,458.86 L135.71,458.86 Z" fill="#000" transform="matrix(1,0,0,1.04,0,-18.712)"/>
<path d="M178.60,467.80 L177.46,467.80 L177.46,460.80 Q177.04,461.18 176.37,461.56 Q175.71,461.94 175.17,462.13 L175.17,461.06 Q176.13,460.63 176.83,460.03 Q177.53,459.43 177.86,458.86 L178.60,458.86 Z" fill="#000" transform="matrix(1,0,0,1.04,0,-18.712)"/>
<path d="M221.49,467.80 L220.35,467.80 L220.35,460.80 Q219.94,461.18 219.27,461.56 Q218.60,461.94 218.07,462.13 L218.07,461.06 Q219.02,460.63 219.73,460.03 Q220.43,459.43 220.75,458.86 L221.49,458.86 Z" fill="#000" transform="matrix(1,0,0,1.04,0,-18.712)"/>
<path d="M180.21,296.30 L178.42,296.30 L178.42,289.84 Q177.45,290.72 176.12,291.13 L176.12,289.58 Q176.82,289.36 177.59,288.78 Q178.37,288.20 178.76,287.36 L180.21,287.36 Z" fill="#000"/>
<path d="M292.96,382.32 L291.81,382.32 L291.81,375.32 Q291.40,375.70 290.73,376.08 Q290.06,376.46 289.53,376.65 L289.53,375.58 Q290.49,375.15 291.19,374.55 Q291.89,373.95 292.21,373.38 L292.96,373.38 Z" fill="#000" transform="matrix(1,0,0,1.04,0,-15.293)"/>
<path d="M292.96,348.88 L291.81,348.88 L291.81,341.88 Q291.40,342.26 290.73,342.64 Q290.06,343.02 289.53,343.21 L289.53,342.14 Q290.49,341.71 291.19,341.11 Q291.89,340.51 292.21,339.94 L292.96,339.94 Z" fill="#000" transform="matrix(1,0,0,1.04,0,-13.955)"/>
<path d="M363.43,465.00 L362.29,465.00 L362.29,458.00 Q361.87,458.38 361.20,458.76 Q360.53,459.14 360.00,459.33 L360.00,458.26 Q360.96,457.83 361.66,457.23 Q362.36,456.63 362.69,456.06 L363.43,456.06 Z" fill="#000" transform="matrix(1,0,0,1.04,0,-18.600)"/>
<path d="M407.11,465.00 L405.97,465.00 L405.97,458.00 Q405.56,458.38 404.89,458.76 Q404.22,459.14 403.69,459.33 L403.69,458.26 Q404.65,457.83 405.35,457.23 Q406.05,456.63 406.37,456.06 L407.11,456.06 Z" fill="#000" transform="matrix(1,0,0,1.04,0,-18.600)"/>
<path d="M449.90,465.00 L448.76,465.00 L448.76,458.00 Q448.34,458.38 447.67,458.76 Q447.01,459.14 446.47,459.33 L446.47,458.26 Q447.43,457.83 448.13,457.23 Q448.83,456.63 449.16,456.06 L449.90,456.06 Z" fill="#000" transform="matrix(1,0,0,1.04,0,-18.600)"/>
<path d="M492.69,465.00 L491.55,465.00 L491.55,458.00 Q491.14,458.38 490.47,458.76 Q489.80,459.14 489.27,459.33 L489.27,458.26 Q490.22,457.83 490.93,457.23 Q491.63,456.63 491.95,456.06 L492.69,456.06 Z" fill="#000" transform="matrix(1,0,0,1.04,0,-18.600)"/>
<path d="M18.46,558.65 L17.31,558.65 L17.31,551.65 Q16.90,552.03 16.23,552.41 Q15.56,552.79 15.03,552.98 L15.03,551.91 Q15.99,551.48 16.69,550.88 Q17.39,550.28 17.71,549.71 L18.46,549.71 Z" fill="#000" transform="matrix(1,0,0,1.04,0,-22.346)"/>
<path d="M18.46,530.70 L17.31,530.70 L17.31,523.70 Q16.90,524.08 16.23,524.46 Q15.56,524.84 15.03,525.03 L15.03,523.96 Q15.99,523.53 16.69,522.93 Q17.39,522.33 17.71,521.76 L18.46,521.76 Z" fill="#000" transform="matrix(1,0,0,1.04,0,-21.228)"/>
<path d="M89.63,714.20 L88.49,714.20 L88.49,707.20 Q88.07,707.58 87.40,707.96 Q86.73,708.34 86.20,708.53 L86.20,707.46 Q87.16,707.03 87.86,706.43 Q88.56,705.83 88.89,705.26 L89.63,705.26 Z" fill="#000" transform="matrix(1,0,0,1.04,0,-28.568)"/>
<path d="M133.51,714.20 L132.37,714.20 L132.37,707.20 Q131.96,707.58 131.29,707.96 Q130.62,708.34 130.09,708.53 L130.09,707.46 Q131.05,707.03 131.75,706.43 Q132.45,705.83 132.77,705.26 L133.51,705.26 Z" fill="#000" transform="matrix(1,0,0,1.04,0,-28.568)"/>
<path d="M176.50,714.20 L175.36,714.20 L175.36,707.20 Q174.94,707.58 174.27,707.96 Q173.61,708.34 173.07,708.53 L173.07,707.46 Q174.03,707.03 174.73,706.43 Q175.43,705.83 175.76,705.26 L176.50,705.26 Z" fill="#000" transform="matrix(1,0,0,1.04,0,-28.568)"/>
<path d="M219.49,714.20 L218.35,714.20 L218.35,707.20 Q217.94,707.58 217.27,707.96 Q216.60,708.34 216.07,708.53 L216.07,707.46 Q217.02,707.03 217.73,706.43 Q218.43,705.83 218.75,705.26 L219.49,705.26 Z" fill="#000" transform="matrix(1,0,0,1.04,0,-28.568)"/>

</svg>
</body></html>
